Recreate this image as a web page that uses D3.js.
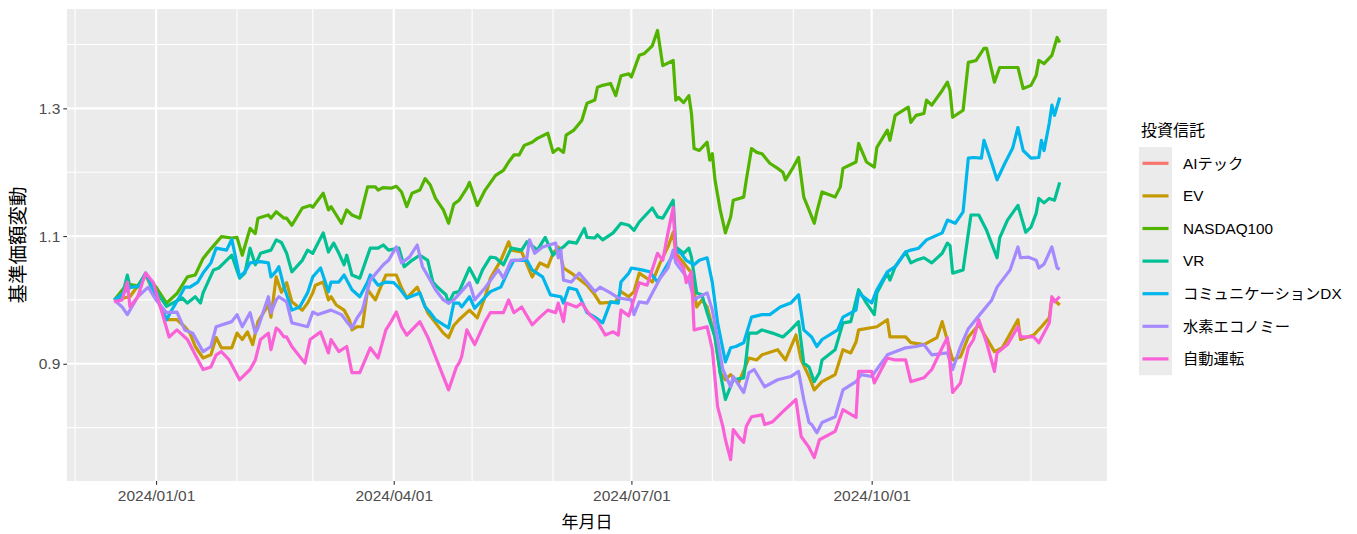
<!DOCTYPE html>
<html><head><meta charset="utf-8">
<script src="https://cdn.jsdelivr.net/npm/d3@7"></script>
<style>
body{margin:0;background:#fff}
text{font-family:"Liberation Sans","Noto Sans CJK JP",sans-serif}
</style>
</head><body>
<svg id="c" width="1357" height="534"></svg>
<script>
// ---- data: [days since 2024-01-01, 基準価額変動] ----
const seriesNames = ["AIテック","EV","NASDAQ100","VR","コミュニケーションDX","水素エコノミー","自動運転"];
const seriesColors = ["#F8766D","#C49A00","#53B400","#00C094","#00B6EB","#A58AFF","#FB61D7"];

const aiTech = [];

const ev = [[-16,1.000],[-10,1.005],[-4,1.039],[0,1.005],[4,0.969],[8,0.969],[11,0.958],[13,0.948],[15,0.927],[18,0.909],[21,0.914],[23,0.941],[25,0.925],[29,0.925],[31,0.948],[33,0.938],[35,0.950],[37,0.930],[39,0.966],[43,0.992],[44,0.973],[46,1.036],[48,1.012],[50,1.027],[52,0.997],[56,0.984],[58,0.995],[60,1.011],[61,1.023],[64,1.028],[66,1.000],[67,1.005],[69,0.992],[72,0.984],[74,0.969],[75,0.953],[77,0.958],[79,0.958],[81,1.016],[84,1.000],[86,1.020],[88,1.039],[92,1.039],[94,1.019],[96,1.003],[100,1.020],[102,1.000],[104,0.980],[107,0.964],[110,0.948],[112,0.941],[114,0.960],[116,0.969],[120,0.984],[123,0.972],[126,1.005],[128,1.034],[132,1.062],[135,1.091],[136,1.078],[140,1.075],[144,1.036],[147,1.058],[150,1.052],[152,1.073],[154,1.083],[156,1.050],[159,1.042],[165,1.023],[168,1.008],[170,0.995],[176,0.997],[178,1.013],[181,1.005],[183,1.013],[185,1.042],[190,1.028],[193,1.058],[196,1.083],[198,1.106],[199,1.073],[202,1.058],[205,1.042],[207,0.989],[209,1.000],[211,0.989],[214,0.942],[216,0.886],[218,0.875],[220,0.883],[223,0.870],[227,0.909],[230,0.906],[232,0.914],[238,0.922],[241,0.906],[245,0.945],[247,0.906],[250,0.880],[252,0.859],[255,0.872],[260,0.883],[263,0.922],[266,0.917],[268,0.934],[269,0.953],[276,0.958],[280,0.969],[281,0.942],[287,0.942],[289,0.933],[294,0.930],[299,0.941],[301,0.966],[305,0.906],[308,0.911],[311,0.942],[315,0.961],[321,0.919],[324,0.925],[330,0.969],[331,0.938],[336,0.945],[339,0.958],[342,0.972],[343,1.003],[346,0.992]];

const nasdaq100 = [[-16,1.000],[-13,1.015],[-11,1.025],[-7,1.022],[-4,1.040],[0,1.020],[4,0.995],[8,1.010],[12,1.036],[15,1.039],[18,1.065],[21,1.080],[25,1.099],[29,1.097],[31,1.098],[33,1.070],[36,1.112],[38,1.104],[39,1.128],[43,1.133],[44,1.128],[46,1.138],[49,1.128],[50,1.128],[52,1.117],[56,1.144],[59,1.148],[60,1.145],[64,1.167],[66,1.141],[67,1.146],[69,1.133],[71,1.120],[73,1.141],[75,1.133],[78,1.128],[81,1.177],[84,1.177],[85,1.172],[87,1.176],[90,1.175],[92,1.178],[94,1.169],[96,1.146],[98,1.167],[101,1.172],[103,1.190],[105,1.180],[107,1.159],[110,1.141],[112,1.120],[114,1.150],[116,1.156],[119,1.175],[120,1.184],[123,1.148],[126,1.172],[130,1.195],[133,1.203],[135,1.216],[137,1.227],[139,1.227],[141,1.242],[144,1.247],[146,1.253],[150,1.261],[152,1.231],[154,1.237],[156,1.231],[157,1.258],[160,1.266],[163,1.281],[165,1.308],[168,1.313],[169,1.333],[171,1.336],[174,1.339],[176,1.320],[178,1.351],[181,1.354],[182,1.349],[185,1.383],[187,1.386],[190,1.398],[192,1.422],[194,1.367],[198,1.375],[199,1.313],[200,1.317],[202,1.309],[204,1.320],[205,1.292],[206,1.237],[208,1.234],[211,1.247],[212,1.219],[213,1.229],[214,1.188],[216,1.141],[218,1.105],[220,1.130],[221,1.156],[225,1.161],[226,1.188],[228,1.237],[230,1.231],[232,1.229],[235,1.214],[238,1.206],[240,1.200],[241,1.188],[244,1.208],[246,1.223],[248,1.161],[250,1.141],[252,1.120],[253,1.138],[255,1.169],[260,1.161],[262,1.177],[263,1.206],[268,1.216],[269,1.245],[272,1.216],[275,1.208],[276,1.239],[280,1.266],[281,1.250],[283,1.289],[288,1.302],[289,1.278],[291,1.289],[294,1.292],[295,1.313],[297,1.305],[301,1.328],[303,1.341],[304,1.328],[305,1.286],[309,1.297],[311,1.372],[314,1.375],[317,1.394],[318,1.394],[321,1.341],[323,1.364],[330,1.364],[332,1.331],[335,1.336],[337,1.352],[338,1.375],[340,1.370],[343,1.383],[345,1.411],[346,1.403]];

const vr = [[-16,1.000],[-13,1.005],[-11,1.039],[-10,1.021],[-7,1.020],[-4,1.042],[-1,1.020],[4,0.990],[10,1.003],[12,0.995],[15,1.005],[17,0.995],[18,1.011],[22,1.047],[24,1.050],[26,1.058],[29,1.070],[32,1.034],[34,1.042],[36,1.081],[38,1.055],[40,1.073],[44,1.078],[46,1.094],[48,1.090],[50,1.073],[52,1.044],[56,1.062],[58,1.078],[60,1.073],[64,1.105],[66,1.075],[68,1.089],[70,1.073],[72,1.055],[73,1.070],[75,1.039],[78,1.034],[82,1.081],[85,1.081],[87,1.086],[89,1.078],[93,1.081],[95,1.052],[98,1.062],[101,1.070],[104,1.062],[106,1.028],[108,1.019],[111,1.008],[112,0.995],[114,1.011],[116,1.013],[120,1.050],[123,1.027],[125,1.047],[128,1.067],[130,1.066],[133,1.055],[136,1.081],[140,1.078],[142,1.091],[146,1.078],[149,1.098],[152,1.070],[154,1.078],[156,1.083],[158,1.091],[161,1.089],[164,1.112],[165,1.098],[168,1.097],[169,1.102],[171,1.094],[175,1.105],[178,1.120],[181,1.117],[183,1.109],[185,1.122],[190,1.144],[192,1.130],[194,1.128],[198,1.156],[199,1.083],[202,1.073],[204,1.081],[205,1.067],[207,1.011],[209,1.008],[211,0.980],[214,0.942],[216,0.886],[218,0.844],[221,0.875],[225,0.878],[226,0.911],[227,0.948],[230,0.948],[232,0.953],[236,0.948],[240,0.942],[243,0.953],[246,0.966],[248,0.901],[250,0.895],[252,0.872],[254,0.886],[255,0.906],[260,0.922],[263,0.964],[266,0.966],[269,1.016],[272,0.995],[275,0.977],[276,1.011],[280,1.042],[281,1.031],[283,1.052],[287,1.075],[289,1.058],[291,1.062],[294,1.066],[297,1.058],[301,1.073],[303,1.089],[304,1.085],[305,1.042],[309,1.047],[312,1.133],[315,1.133],[318,1.109],[322,1.066],[323,1.097],[326,1.125],[330,1.148],[333,1.106],[335,1.114],[337,1.136],[338,1.159],[340,1.152],[342,1.159],[344,1.156],[346,1.184]];

const commDX = [[-16,1.000],[-10,1.019],[-6,1.023],[-4,1.042],[4,0.969],[6,0.984],[9,1.005],[11,1.020],[13,1.020],[16,1.028],[18,1.042],[21,1.058],[23,1.081],[27,1.078],[29,1.095],[32,1.036],[34,1.044],[36,1.058],[40,1.060],[43,1.058],[44,1.036],[46,1.045],[47,1.052],[49,1.020],[50,1.008],[52,0.984],[55,0.989],[58,1.011],[60,1.036],[63,1.050],[66,1.013],[67,1.028],[70,1.028],[72,1.039],[75,1.016],[78,1.005],[81,1.028],[82,1.039],[85,1.023],[88,1.028],[91,1.027],[93,1.019],[96,1.003],[101,1.011],[103,0.989],[105,0.980],[107,0.969],[112,0.956],[114,0.995],[116,0.995],[117,0.989],[120,1.005],[122,0.987],[125,1.000],[128,1.013],[132,1.020],[135,1.047],[137,1.062],[142,1.062],[144,1.047],[148,1.036],[151,1.008],[155,1.005],[156,0.995],[158,1.019],[161,1.016],[165,0.980],[168,0.973],[171,0.964],[174,0.997],[177,0.995],[178,1.028],[181,1.042],[182,1.050],[186,1.047],[189,1.044],[192,1.028],[195,1.050],[199,1.078],[201,1.073],[203,1.062],[206,1.055],[208,1.062],[211,1.066],[213,1.027],[215,0.964],[218,0.903],[220,0.925],[222,0.927],[225,0.933],[228,0.973],[232,0.977],[235,0.977],[239,0.989],[243,0.995],[246,1.008],[248,0.953],[251,0.942],[253,0.927],[255,0.938],[261,0.953],[263,0.973],[268,0.984],[269,1.011],[274,0.995],[276,1.016],[280,1.044],[283,1.052],[287,1.075],[289,1.078],[292,1.081],[295,1.094],[301,1.105],[303,1.125],[306,1.120],[309,1.138],[311,1.222],[313,1.223],[316,1.222],[317,1.250],[320,1.214],[322,1.188],[325,1.214],[328,1.238],[330,1.270],[332,1.234],[335,1.222],[338,1.223],[339,1.250],[340,1.234],[342,1.277],[343,1.305],[344,1.289],[346,1.317]];

const hydrogen = [[-16,1.000],[-13,0.989],[-11,0.977],[-7,1.005],[-3,1.020],[0,1.000],[4,0.980],[8,0.981],[11,0.953],[14,0.948],[18,0.919],[21,0.927],[23,0.958],[29,0.966],[31,0.977],[33,0.958],[36,0.980],[38,0.948],[39,0.956],[43,1.005],[44,0.980],[46,1.000],[47,1.005],[50,0.997],[52,0.964],[55,0.961],[58,0.958],[60,0.981],[62,0.977],[67,0.984],[71,0.977],[73,0.966],[75,0.956],[77,0.972],[79,0.984],[82,1.031],[87,1.055],[89,1.062],[92,1.083],[94,1.058],[97,1.067],[100,1.086],[102,1.052],[105,1.031],[107,1.016],[110,1.000],[112,0.995],[114,1.000],[120,1.027],[122,1.000],[126,1.019],[131,1.047],[133,1.034],[136,1.062],[139,1.062],[142,1.066],[143,1.094],[145,1.073],[148,1.083],[153,1.089],[154,1.066],[155,1.078],[156,1.031],[159,1.028],[162,1.042],[168,1.013],[170,1.020],[174,1.011],[177,1.003],[182,1.000],[183,0.977],[185,0.997],[188,0.995],[193,1.034],[196,1.050],[198,1.078],[199,1.058],[204,1.031],[206,1.000],[208,1.005],[211,1.011],[213,0.984],[215,0.938],[217,0.891],[220,0.864],[221,0.880],[225,0.855],[227,0.886],[229,0.891],[233,0.864],[238,0.875],[243,0.880],[246,0.888],[248,0.844],[250,0.808],[251,0.805],[253,0.792],[255,0.808],[260,0.817],[263,0.859],[268,0.872],[270,0.883],[274,0.880],[280,0.914],[287,0.925],[291,0.927],[294,0.930],[297,0.914],[303,0.917],[305,0.891],[308,0.927],[311,0.955],[315,0.975],[320,1.000],[322,1.020],[327,1.047],[330,1.083],[331,1.066],[334,1.067],[337,1.062],[338,1.050],[340,1.056],[343,1.083],[345,1.050],[346,1.048]];

const autoDrive = [[-16,0.997],[-13,1.000],[-11,1.028],[-10,0.989],[-7,1.005],[-4,1.042],[-1,1.027],[2,0.984],[5,0.942],[8,0.953],[12,0.938],[15,0.914],[18,0.891],[21,0.895],[23,0.914],[25,0.919],[28,0.906],[32,0.875],[34,0.883],[36,0.891],[38,0.906],[40,0.938],[43,0.948],[44,0.922],[46,0.956],[47,0.953],[49,0.942],[50,0.942],[52,0.927],[57,0.901],[59,0.938],[63,0.950],[66,0.917],[67,0.938],[70,0.919],[73,0.927],[75,0.886],[78,0.886],[82,0.925],[85,0.909],[88,0.953],[90,0.966],[92,0.981],[94,0.958],[96,0.945],[101,0.966],[104,0.942],[107,0.911],[110,0.880],[112,0.859],[115,0.895],[116,0.901],[117,0.911],[119,0.953],[122,0.930],[126,0.966],[128,0.980],[133,0.980],[135,1.000],[137,0.980],[140,0.989],[144,0.961],[147,0.973],[150,0.984],[153,0.980],[154,0.995],[156,0.966],[157,0.995],[161,0.989],[163,0.995],[166,0.977],[169,0.966],[172,0.945],[175,0.950],[177,0.945],[178,0.984],[181,0.975],[185,1.027],[188,1.023],[192,1.073],[194,1.062],[196,1.105],[198,1.145],[199,1.067],[202,1.050],[203,1.027],[205,1.044],[206,0.953],[211,0.958],[213,0.922],[215,0.833],[217,0.802],[218,0.781],[220,0.750],[221,0.797],[223,0.786],[225,0.777],[226,0.802],[228,0.817],[232,0.820],[233,0.805],[236,0.809],[240,0.825],[245,0.844],[247,0.786],[250,0.769],[252,0.753],[254,0.781],[260,0.794],[263,0.828],[268,0.816],[269,0.888],[274,0.888],[275,0.870],[280,0.909],[283,0.906],[287,0.906],[289,0.872],[294,0.878],[297,0.891],[301,0.925],[303,0.941],[305,0.855],[308,0.870],[311,0.925],[313,0.938],[315,0.969],[318,0.933],[321,0.888],[322,0.917],[326,0.930],[330,0.958],[331,0.942],[336,0.942],[338,0.933],[342,0.964],[343,1.005],[344,0.997],[346,1.005]];

const seriesData = [aiTech, ev, nasdaq100, vr, commDX, hydrogen, autoDrive];

const xMajorBreaks = ["2024-01-01","2024-04-01","2024-07-01","2024-10-01"];
const xTickLabels  = ["2024/01/01","2024/04/01","2024/07/01","2024/10/01"];
const xMinorBreaks = ["2023-12-01","2024-02-01","2024-03-01","2024-05-01","2024-06-01","2024-08-01","2024-09-01","2024-11-01","2024-12-01"];
const yMajorBreaks = [0.9, 1.1, 1.3];
const yTickLabels  = ["0.9","1.1","1.3"];
const yMinorBreaks = [0.8, 1.0, 1.2, 1.4];

const xTitle = "年月日";
const yTitle = "基準価額変動";
const legendTitle = "投資信託";

// ---- drawing ----
const base = Date.UTC(2024,0,1);
const toDate = d => new Date(base + d*864e5);
const parse = s => { const [y,m,d] = s.split("-").map(Number); return new Date(Date.UTC(y,m-1,d)); };

const P = {l:67, r:1107, t:9, b:481};
const svg = d3.select("#c");

const all = seriesData.flat();
const dx = d3.extent(all, d => d[0]), dy = d3.extent(all, d => d[1]);
const ex = (dx[1]-dx[0])*0.05, ey = (dy[1]-dy[0])*0.05;
const x = d3.scaleUtc().domain([toDate(dx[0]-ex), toDate(dx[1]+ex)]).range([P.l, P.r]);
const y = d3.scaleLinear().domain([dy[0]-ey, dy[1]+ey]).range([P.b, P.t]);

svg.append("rect").attr("x",P.l).attr("y",P.t).attr("width",P.r-P.l).attr("height",P.b-P.t).attr("fill","#EBEBEB");

const grid = svg.append("g");
grid.selectAll(".ymin").data(yMinorBreaks).join("line")
  .attr("x1",P.l).attr("x2",P.r).attr("y1",d=>y(d)).attr("y2",d=>y(d))
  .attr("stroke","#fff").attr("stroke-width",1.1);
grid.selectAll(".xmin").data(xMinorBreaks.map(parse)).join("line")
  .attr("y1",P.t).attr("y2",P.b).attr("x1",d=>x(d)).attr("x2",d=>x(d))
  .attr("stroke","#fff").attr("stroke-width",1.1);
grid.selectAll(".ymaj").data(yMajorBreaks).join("line")
  .attr("x1",P.l).attr("x2",P.r).attr("y1",d=>y(d)).attr("y2",d=>y(d))
  .attr("stroke","#fff").attr("stroke-width",2.2);
grid.selectAll(".xmaj").data(xMajorBreaks.map(parse)).join("line")
  .attr("y1",P.t).attr("y2",P.b).attr("x1",d=>x(d)).attr("x2",d=>x(d))
  .attr("stroke","#fff").attr("stroke-width",2.2);

svg.append("clipPath").attr("id","clip").append("rect")
  .attr("x",P.l).attr("y",P.t).attr("width",P.r-P.l).attr("height",P.b-P.t);

const line = d3.line().x(d=>x(toDate(d[0]))).y(d=>y(d[1]));
const lines = svg.append("g").attr("clip-path","url(#clip)");
seriesData.forEach((s,i) => {
  if (!s.length) return;
  lines.append("path").attr("d", line(s)).attr("fill","none")
    .attr("stroke", seriesColors[i]).attr("stroke-width",3.2)
    .attr("stroke-linejoin","round").attr("stroke-linecap","butt");
});

// axes
const xAxis = d3.axisBottom(x).tickValues(xMajorBreaks.map(parse))
  .tickFormat((d,i)=>xTickLabels[i]).tickSize(3.7).tickPadding(3);
const gx = svg.append("g").attr("transform",`translate(0,${P.b})`).call(xAxis);
gx.select(".domain").remove();
gx.selectAll(".tick line").attr("stroke","#333").attr("stroke-width",1.1);
gx.selectAll(".tick text").attr("fill","#4D4D4D").style("font-size","15.5px").attr("dy","0.85em");

const yAxis = d3.axisLeft(y).tickValues(yMajorBreaks)
  .tickFormat((d,i)=>yTickLabels[i]).tickSize(3.7).tickPadding(3);
const gy = svg.append("g").attr("transform",`translate(${P.l},0)`).call(yAxis);
gy.select(".domain").remove();
gy.selectAll(".tick line").attr("stroke","#333").attr("stroke-width",1.1);
gy.selectAll(".tick text").attr("fill","#4D4D4D").style("font-size","15.5px");

svg.append("text").attr("x",(P.l+P.r)/2).attr("y",528).attr("text-anchor","middle")
  .style("font-size","17px").attr("fill","#000").text(xTitle);
svg.append("text").attr("transform",`translate(25,${(P.t+P.b)/2}) rotate(-90)`)
  .attr("text-anchor","middle").style("font-size","19.5px").attr("fill","#000").text(yTitle);

// legend
const L = {x:1139, y:147, w:33, h:32.6};
svg.append("text").attr("x",1141).attr("y",136).style("font-size","16px").attr("fill","#000").text(legendTitle);
svg.append("rect").attr("x",L.x).attr("y",L.y).attr("width",L.w).attr("height",L.h*seriesNames.length).attr("fill","#EBEBEB");
const lg = svg.append("g");
seriesNames.forEach((n,i) => {
  const cy = L.y + L.h*(i+0.5);
  lg.append("line").attr("x1",L.x+3.5).attr("x2",L.x+L.w-3.5).attr("y1",cy).attr("y2",cy)
    .attr("stroke",seriesColors[i]).attr("stroke-width",3.2);
  lg.append("text").attr("x",1183).attr("y",cy).attr("dy","0.35em")
    .style("font-size","15.3px").attr("fill","#000").text(n);
});
</script>
</body></html>
